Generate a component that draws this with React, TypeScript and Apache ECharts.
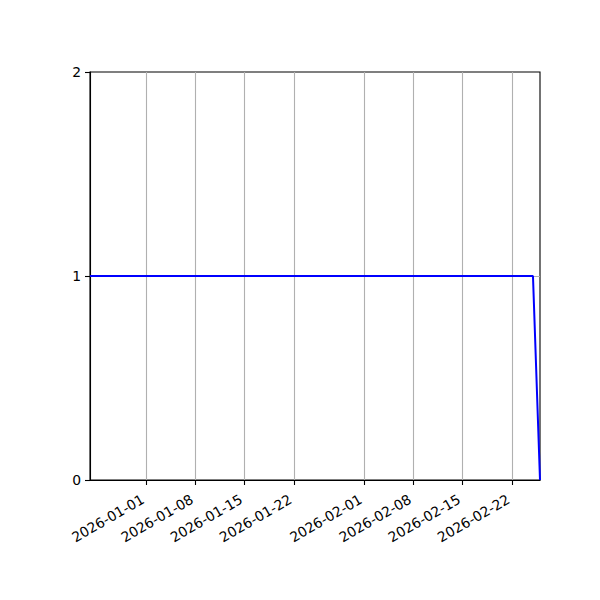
import { useEffect, useRef } from "react";
import * as echarts from "echarts";

// data (a flat run at 1, then a drop to 0 on the last day)
const dates = ["2025-12-24", "2026-02-25", "2026-02-26"];
const values = [1, 1, 0];

const xTicks = [
  "2026-01-01",
  "2026-01-08",
  "2026-01-15",
  "2026-01-22",
  "2026-02-01",
  "2026-02-08",
  "2026-02-15",
  "2026-02-22",
];
const yTicks = [0, 1, 2];

const toTime = (s: string) => {
  const [y, m, d] = s.split("-").map(Number);
  return new Date(y, m - 1, d).getTime();
};

const pad = (n: number) => (n < 10 ? "0" + n : "" + n);
const fmt = (v: number) => {
  const d = new Date(v);
  return `${d.getFullYear()}-${pad(d.getMonth() + 1)}-${pad(d.getDate())}`;
};

export default function App() {
  const chartRef = useRef<HTMLDivElement | null>(null);

  useEffect(() => {
    document.body.style.margin = "0";
    if (!chartRef.current) return;
    const chart = echarts.init(chartRef.current, null, { renderer: "svg" });

    const font = { fontFamily: "DejaVu Sans", fontSize: 13.9, color: "#000" };
    const tickTimes = xTicks.map(toTime);

    chart.setOption({
      animation: false,
      backgroundColor: "#fff",
      grid: {
        left: 90,
        right: 60,
        top: 72,
        bottom: 120,
        show: true,
        borderColor: "#000",
        borderWidth: 1.1,
      },
      xAxis: {
        type: "value",
        min: toTime(dates[0]),
        max: toTime(dates[dates.length - 1]),
        axisLine: { show: true, onZero: false, lineStyle: { color: "#000", width: 1.1 } },
        axisTick: {
          show: true,
          length: 5,
          customValues: tickTimes,
          lineStyle: { color: "#000", width: 1.1 },
        },
        axisLabel: {
          ...font,
          rotate: 30,
          margin: 16,
          padding: [0, 4, 0, 0],
          customValues: tickTimes,
          formatter: (v: number) => fmt(v),
        },
        splitLine: { show: true, lineStyle: { color: "#b0b0b0", width: 1.1 } },
      },
      yAxis: {
        type: "value",
        min: 0,
        max: 2,
        interval: 1,
        axisLine: { show: true, lineStyle: { color: "#000", width: 1.1 } },
        axisTick: { show: true, length: 5, lineStyle: { color: "#000", width: 1.1 } },
        axisLabel: {
          ...font,
          margin: 9,
          formatter: (v: number) => (yTicks.includes(v) ? String(v) : ""),
        },
        splitLine: { show: false },
      },
      series: [
        {
          type: "line",
          data: dates.map((d, i) => [toTime(d), values[i]]),
          showSymbol: false,
          lineStyle: { color: "#0000ff", width: 2 },
          itemStyle: { color: "#0000ff" },
          z: 3,
          markLine: {
            silent: true,
            symbol: "none",
            label: { show: false },
            lineStyle: { color: "#b0b0b0", width: 1.1, type: "solid" },
            z: 1,
            data: [{ yAxis: 1 }],
          },
        },
      ],
    });

    return () => chart.dispose();
  }, []);

  return <div ref={chartRef} style={{ width: 600, height: 600 }} />;
}
